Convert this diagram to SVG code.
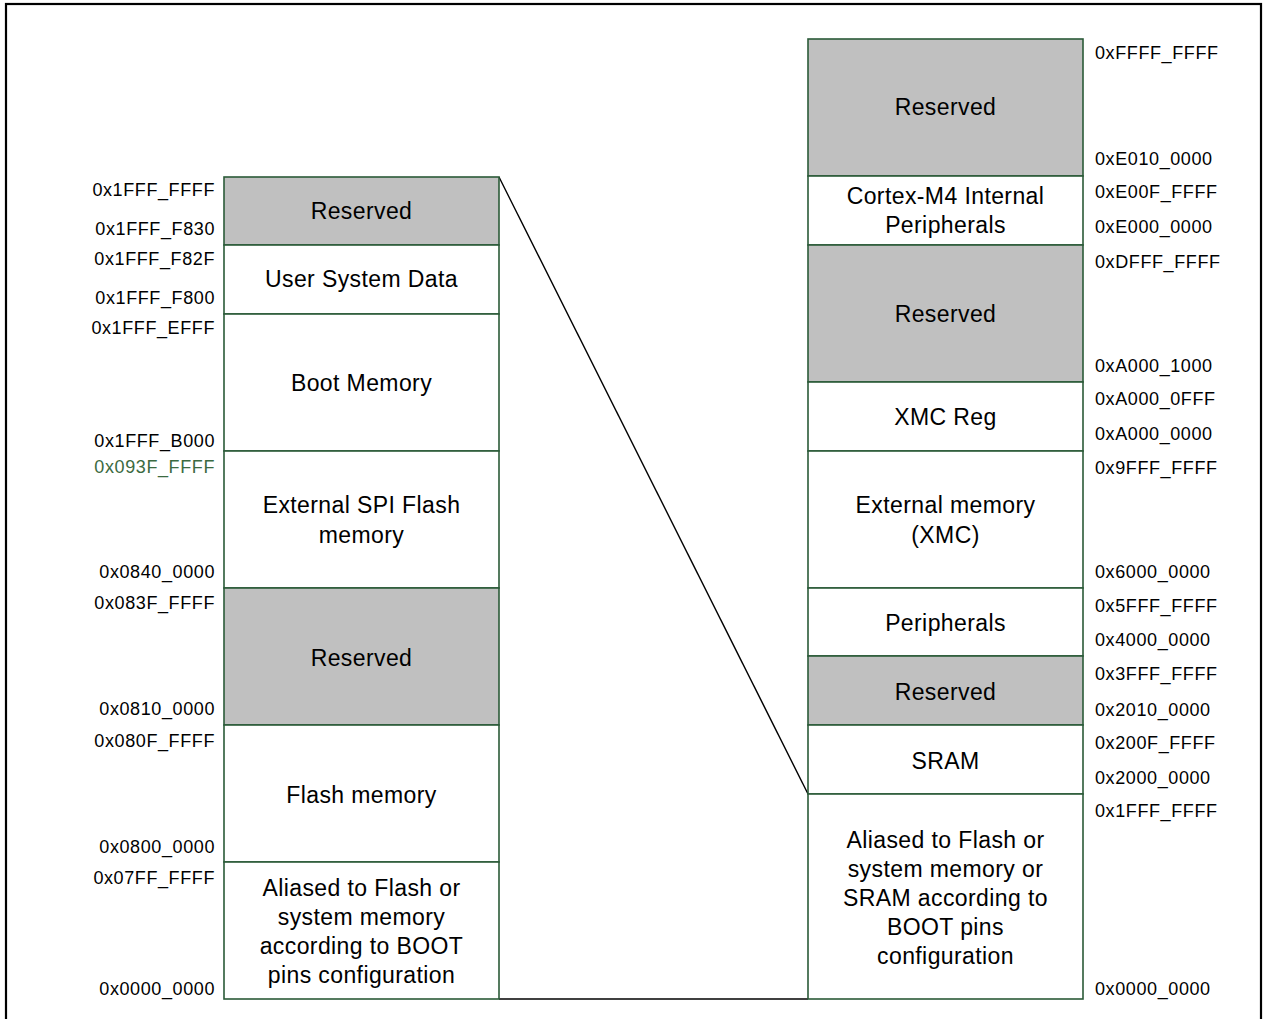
<svg xmlns="http://www.w3.org/2000/svg" width="1268" height="1019" viewBox="0 0 1268 1019">
<style>
.blk{stroke:#2b5a38;stroke-width:1.6}
.res{fill:#c0c0c0}
.mem{fill:#ffffff}
.t{font-family:"Liberation Sans",Arial,sans-serif;font-size:23px;fill:#000;text-anchor:middle;letter-spacing:0.4px}
.al{font-family:"Liberation Sans",Arial,sans-serif;font-size:18px;fill:#000;text-anchor:end;letter-spacing:0.6px}
.ar{font-family:"Liberation Sans",Arial,sans-serif;font-size:18px;fill:#000;text-anchor:start;letter-spacing:0.6px}
.conn{stroke:#000;stroke-width:1.4;fill:none}
</style>
<rect x="0" y="0" width="1268" height="1019" fill="#fff"/>
<rect x="6" y="4" width="1255" height="1040" fill="none" stroke="#000" stroke-width="2.2"/>

<g id="connectors">
<line class="conn" x1="499" y1="177" x2="808" y2="794"/>
<line class="conn" x1="499" y1="999" x2="808" y2="999"/>
</g>

<g id="left-map">
<g id="l-reserved-top"><rect class="blk res" x="224" y="177" width="275" height="68"/><text class="t" x="361.5" y="219">Reserved</text></g>
<g id="l-user-system-data"><rect class="blk mem" x="224" y="245" width="275" height="69"/><text class="t" x="361.5" y="287">User System Data</text></g>
<g id="l-boot-memory"><rect class="blk mem" x="224" y="314" width="275" height="137"/><text class="t" x="361.5" y="391">Boot Memory</text></g>
<g id="l-ext-spi"><rect class="blk mem" x="224" y="451" width="275" height="137"/><text class="t" x="361.5" y="513">External SPI Flash</text><text class="t" x="361.5" y="543">memory</text></g>
<g id="l-reserved-mid"><rect class="blk res" x="224" y="588" width="275" height="137"/><text class="t" x="361.5" y="666">Reserved</text></g>
<g id="l-flash"><rect class="blk mem" x="224" y="725" width="275" height="137"/><text class="t" x="361.5" y="803">Flash memory</text></g>
<g id="l-aliased"><rect class="blk mem" x="224" y="862" width="275" height="137"/><text class="t" x="361.5" y="896">Aliased to Flash or</text><text class="t" x="361.5" y="925">system memory</text><text class="t" x="361.5" y="954">according to BOOT</text><text class="t" x="361.5" y="983">pins configuration</text></g>
</g>

<g id="left-labels">
<text class="al" x="215" y="196">0x1FFF_FFFF</text>
<text class="al" x="215" y="235">0x1FFF_F830</text>
<text class="al" x="215" y="265">0x1FFF_F82F</text>
<text class="al" x="215" y="304">0x1FFF_F800</text>
<text class="al" x="215" y="334">0x1FFF_EFFF</text>
<text class="al" x="215" y="447">0x1FFF_B000</text>
<text class="al" x="215" y="473" style="fill:#3b6a41">0x093F_FFFF</text>
<text class="al" x="215" y="578">0x0840_0000</text>
<text class="al" x="215" y="609">0x083F_FFFF</text>
<text class="al" x="215" y="715">0x0810_0000</text>
<text class="al" x="215" y="747">0x080F_FFFF</text>
<text class="al" x="215" y="853">0x0800_0000</text>
<text class="al" x="215" y="884">0x07FF_FFFF</text>
<text class="al" x="215" y="995">0x0000_0000</text>
</g>

<g id="right-map">
<g id="r-reserved-top"><rect class="blk res" x="808" y="39" width="275" height="137"/><text class="t" x="945.5" y="115">Reserved</text></g>
<g id="r-cortex"><rect class="blk mem" x="808" y="176" width="275" height="69"/><text class="t" x="945.5" y="204">Cortex-M4 Internal</text><text class="t" x="945.5" y="233">Peripherals</text></g>
<g id="r-reserved-2"><rect class="blk res" x="808" y="245" width="275" height="137"/><text class="t" x="945.5" y="322">Reserved</text></g>
<g id="r-xmc-reg"><rect class="blk mem" x="808" y="382" width="275" height="69"/><text class="t" x="945.5" y="425">XMC Reg</text></g>
<g id="r-ext-mem"><rect class="blk mem" x="808" y="451" width="275" height="137"/><text class="t" x="945.5" y="513">External memory</text><text class="t" x="945.5" y="543">(XMC)</text></g>
<g id="r-peripherals"><rect class="blk mem" x="808" y="588" width="275" height="68"/><text class="t" x="945.5" y="631">Peripherals</text></g>
<g id="r-reserved-3"><rect class="blk res" x="808" y="656" width="275" height="69"/><text class="t" x="945.5" y="700">Reserved</text></g>
<g id="r-sram"><rect class="blk mem" x="808" y="725" width="275" height="69"/><text class="t" x="945.5" y="769">SRAM</text></g>
<g id="r-aliased"><rect class="blk mem" x="808" y="794" width="275" height="205"/><text class="t" x="945.5" y="848">Aliased to Flash or</text><text class="t" x="945.5" y="877">system memory or</text><text class="t" x="945.5" y="906">SRAM according to</text><text class="t" x="945.5" y="935">BOOT pins</text><text class="t" x="945.5" y="964">configuration</text></g>
</g>

<g id="right-labels">
<text class="ar" x="1095" y="59">0xFFFF_FFFF</text>
<text class="ar" x="1095" y="165">0xE010_0000</text>
<text class="ar" x="1095" y="198">0xE00F_FFFF</text>
<text class="ar" x="1095" y="233">0xE000_0000</text>
<text class="ar" x="1095" y="268">0xDFFF_FFFF</text>
<text class="ar" x="1095" y="372">0xA000_1000</text>
<text class="ar" x="1095" y="405">0xA000_0FFF</text>
<text class="ar" x="1095" y="440">0xA000_0000</text>
<text class="ar" x="1095" y="474">0x9FFF_FFFF</text>
<text class="ar" x="1095" y="578">0x6000_0000</text>
<text class="ar" x="1095" y="612">0x5FFF_FFFF</text>
<text class="ar" x="1095" y="646">0x4000_0000</text>
<text class="ar" x="1095" y="680">0x3FFF_FFFF</text>
<text class="ar" x="1095" y="716">0x2010_0000</text>
<text class="ar" x="1095" y="749">0x200F_FFFF</text>
<text class="ar" x="1095" y="784">0x2000_0000</text>
<text class="ar" x="1095" y="817">0x1FFF_FFFF</text>
<text class="ar" x="1095" y="995">0x0000_0000</text>
</g>
</svg>
